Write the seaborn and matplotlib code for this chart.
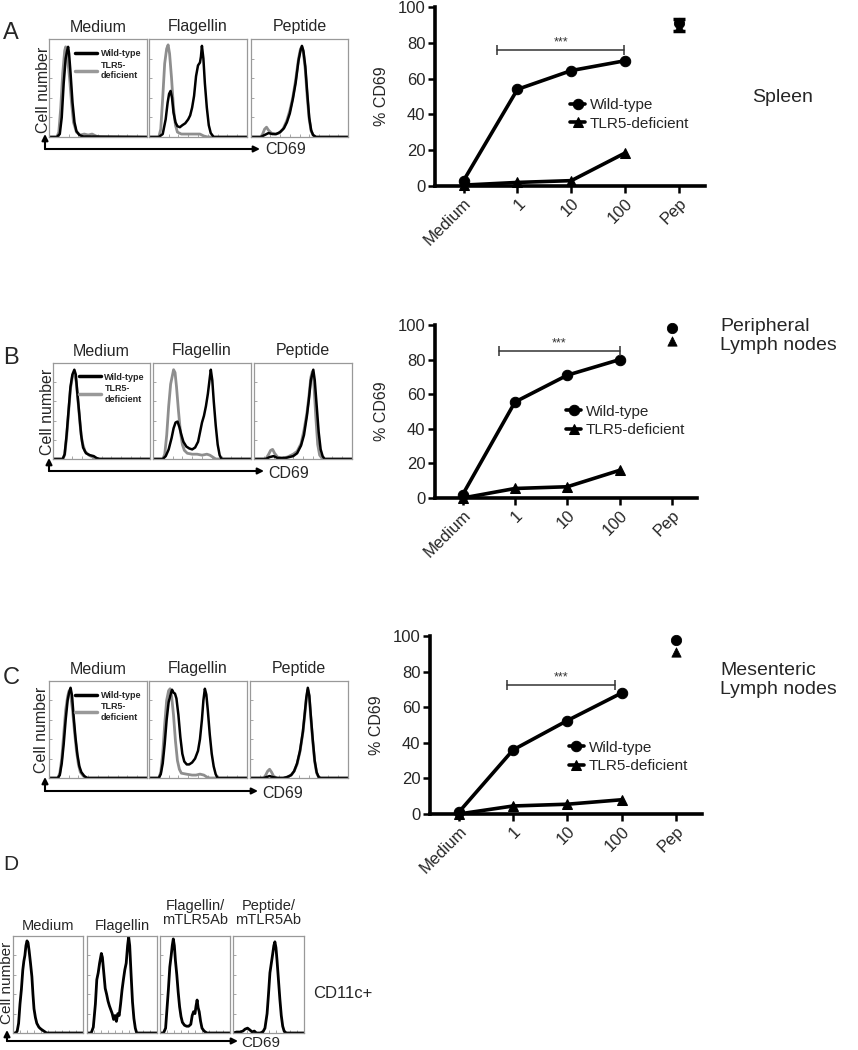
import matplotlib
matplotlib.use("Agg")
import numpy as np
import pandas as pd
import matplotlib.pyplot as plt
import seaborn as sns
from matplotlib.lines import Line2D

sns.set_theme(style="white")
plt.rcParams['font.family'] = ['Liberation Sans', 'DejaVu Sans']

W, H = 858, 1050

# ---- line chart data (% CD69) ----
XTICK_LABELS = ["Medium", "1", "10", "100", "Pep"]
A_WT = [3, 54, 64.5, 70]
A_KO = [0.5, 2, 3, 18.5]
A_PEP_WT, A_PEP_KO = 91, 89
B_WT = [2, 55.5, 71, 80]
B_KO = [0, 5.5, 6.5, 16]
B_PEP_WT, B_PEP_KO = 98, 91
C_WT = [1, 36, 52.5, 68]
C_KO = [0, 4.5, 5.5, 8]
C_PEP_WT, C_PEP_KO = 98, 91

# ---- histogram traces (x %, height %) ----
A_MED_WT = [(0, 0), (8, 0), (11, 3), (13, 20), (15, 55), (17, 80), (18.5, 88), (19.5, 92), (20.5, 85), (22, 65),
            (24, 35), (26, 15), (28, 6), (31, 2), (35, 0.5), (100, 0)]
A_MED_KO = [(0, 0), (8, 0), (10, 5), (12, 30), (14, 65), (16, 88), (17, 92), (18, 88), (19.5, 75), (21, 60),
            (23, 35), (25, 15), (28, 5), (32, 2), (36, 3), (40, 2), (44, 3), (48, 1), (52, 0), (100, 0)]
A_FLA_WT = [(0, 0), (10, 0), (14, 3), (17, 18), (19, 35), (20.5, 44), (22, 47), (23.5, 40), (25, 25), (27, 15),
            (29, 11), (31.5, 10), (34, 12), (37, 14), (40, 18), (42, 22), (44, 30), (46, 42), (48, 62), (50, 73),
            (52, 76), (53, 82), (54, 93), (55.5, 80), (57, 55), (59, 30), (61, 12), (63, 4), (66, 0), (100, 0)]
A_FLA_KO = [(0, 0), (10, 0), (12, 8), (14, 40), (16, 75), (18, 90), (19.5, 94), (21, 85), (23, 60), (25, 30),
            (27, 12), (29, 5), (33, 3), (40, 3), (48, 3), (52, 3), (56, 1), (60, 0), (100, 0)]
A_PEP_WT_H = [(0, 0), (10, 0), (14, 2), (18, 4), (22, 3), (26, 3), (30, 5), (34, 9), (37, 15), (40, 24), (43, 38),
              (46, 55), (49, 78), (51, 88), (52.5, 93), (54, 88), (56, 72), (58, 45), (60, 20), (62, 7), (64, 2),
              (67, 0), (100, 0)]
A_PEP_KO_H = [(0, 0), (10, 0), (12, 3), (14, 8), (16, 10), (18, 7), (21, 4), (25, 3), (29, 4), (33, 8), (37, 17),
              (40, 27), (43, 40), (46, 58), (49, 80), (51, 90), (52.5, 92), (54, 86), (56, 68), (58, 40), (60, 18),
              (62, 6), (64, 2), (67, 0), (100, 0)]

B_MED_WT = [(0, 0), (10, 0), (12, 5), (14, 25), (16, 50), (18, 75), (20, 88), (22, 93), (23.5, 88), (25, 70),
            (27, 48), (29, 25), (31, 12), (34, 6), (38, 4), (42, 3), (45, 1), (48, 0), (100, 0)]
B_MED_KO = [(0, 0), (10, 0), (12, 4), (14, 22), (16, 48), (18, 73), (20, 86), (22, 90), (24, 80), (26, 58),
            (28, 35), (30, 18), (33, 8), (37, 4), (41, 2), (45, 0), (100, 0)]
B_FLA_WT = [(0, 0), (10, 0), (13, 3), (16, 10), (19, 22), (21, 32), (23, 38), (25, 39), (27, 33), (29, 25),
            (31, 18), (34, 13), (37, 11), (40, 10), (43, 12), (46, 18), (48, 28), (50, 38), (52, 45), (54, 55),
            (56, 68), (58, 85), (59, 93), (60.5, 82), (62, 60), (64, 35), (66, 15), (68, 4), (70, 0), (100, 0)]
B_FLA_KO = [(0, 0), (10, 0), (12, 5), (14, 25), (16, 55), (18, 78), (20, 88), (21, 93), (22.5, 90), (24, 75),
            (26, 50), (28, 28), (30, 15), (32, 9), (35, 6), (40, 5), (45, 5), (50, 4), (55, 5), (58, 4), (61, 2),
            (64, 0), (100, 0)]
B_PEP_WT_H = [(0, 0), (12, 0), (16, 2), (20, 3), (24, 1), (28, 1), (32, 1), (36, 2), (40, 3), (44, 6), (48, 14),
              (51, 25), (54, 45), (56, 62), (58, 82), (60.5, 93), (62, 82), (64, 55), (66, 28), (68, 10), (70, 3),
              (72, 0), (100, 0)]
B_PEP_KO_H = [(0, 0), (12, 0), (15, 5), (17, 9), (19, 10), (21, 6), (24, 2), (28, 1), (34, 2), (40, 5), (44, 8),
              (48, 16), (51, 30), (54, 48), (56, 65), (58, 85), (59.5, 91), (61, 80), (63, 45), (65, 15), (67, 4),
              (70, 0), (100, 0)]

C_MED_WT = [(0, 0), (9, 0), (11, 3), (13, 15), (15, 35), (17, 60), (19, 80), (20.5, 88), (22, 93), (23.5, 85),
            (25, 65), (27, 42), (29, 24), (31, 12), (33, 6), (36, 2), (39, 0), (100, 0)]
C_MED_KO = [(0, 0), (9, 0), (11, 5), (13, 20), (15, 45), (17, 70), (19, 84), (20.5, 90), (22, 86), (24, 70),
            (26, 48), (28, 28), (30, 14), (32, 6), (35, 2), (38, 0), (100, 0)]
C_FLA_WT = [(0, 0), (10, 0), (12, 4), (14, 15), (16, 35), (18, 60), (20, 78), (22, 86), (23.5, 91), (25, 88),
            (26.5, 87), (28, 82), (30, 65), (32, 42), (34, 25), (36, 17), (38.5, 14), (41, 14), (44, 16), (47, 20),
            (50, 28), (52, 40), (54, 60), (55.5, 80), (57, 92), (58.5, 86), (60, 70), (62, 45), (64, 25), (66, 12),
            (68, 4), (70, 0), (100, 0)]
C_FLA_KO = [(0, 0), (10, 0), (12, 6), (14, 25), (16, 55), (18, 80), (20, 90), (21.5, 92), (23, 85), (25, 65),
            (27, 38), (29, 18), (31, 9), (33, 5), (38, 4), (44, 3), (48, 3), (52, 4), (56, 3), (59, 1), (62, 0),
            (100, 0)]
C_PEP_WT_H = [(0, 0), (14, 0), (17, 1), (20, 2), (23, 1), (28, 0), (34, 0), (38, 1), (42, 3), (45, 7), (48, 15),
              (51, 28), (54, 48), (56, 68), (57.5, 83), (59, 93), (60.5, 85), (62, 65), (64, 40), (66, 18), (68, 6),
              (70, 1), (72, 0), (100, 0)]
C_PEP_KO_H = [(0, 0), (14, 0), (16, 3), (18, 7), (20, 9), (22, 6), (24, 2), (27, 0), (34, 0), (38, 1), (42, 3),
              (45, 7), (48, 14), (51, 27), (54, 47), (56, 66), (57.5, 82), (59, 91), (60.5, 84), (62, 63), (64, 38),
              (66, 17), (68, 5), (70, 1), (72, 0), (100, 0)]

D_MED = [(0, 0), (4, 0), (6, 2), (8, 10), (10, 30), (12, 45), (14, 65), (15.5, 74), (17, 80), (18.5, 90), (20, 95),
         (21.5, 93), (23, 85), (25, 72), (27, 58), (28.5, 40), (30, 25), (32, 16), (34, 10), (37, 6), (40, 4),
         (44, 2), (48, 0), (100, 0)]
D_FLA = [(0, 0), (6, 0), (9, 6), (12, 30), (14, 55), (16, 62), (18, 72), (20.5, 82), (22, 78), (24, 62), (26, 46),
         (28, 40), (30, 33), (32, 28), (34, 24), (36, 20), (38, 14), (40, 18), (42, 12), (44, 20), (46, 18),
         (48, 30), (50, 44), (52, 55), (54, 65), (56, 72), (58, 90), (59.5, 99), (61, 90), (63, 60), (65, 32),
         (67, 15), (69, 5), (71, 0), (100, 0)]
D_FLA_AB = [(0, 0), (5, 0), (8, 5), (10, 25), (12, 45), (14, 68), (16, 80), (17.5, 90), (19, 97), (20.5, 90),
            (22, 75), (24, 60), (26, 42), (28, 27), (30, 17), (32, 11), (35, 8), (38, 7), (41, 7), (44, 9), (46, 18),
            (48, 22), (50, 20), (51.5, 28), (53, 34), (54.5, 26), (56, 22), (58, 12), (60, 5), (63, 2), (67, 0),
            (100, 0)]
D_PEP_AB = [(0, 0), (5, 1), (10, 1), (14, 2), (17, 4), (20.5, 5), (24, 3), (27, 1), (30, 2), (33, 0), (38, 0),
            (42, 1), (45, 5), (48, 20), (50, 40), (52, 62), (54, 72), (56, 82), (57.5, 90), (59, 94), (60.5, 88),
            (62, 75), (64, 55), (66, 35), (68, 18), (70, 7), (72, 2), (75, 0), (100, 0)]

HIST_TITLES = ["Medium", "Flagellin", "Peptide"]
D_TITLES = ["Medium", "Flagellin", "Flagellin/\nmTLR5Ab", "Peptide/\nmTLR5Ab"]

fig = plt.figure(figsize=(W / 100, H / 100), dpi=100)


def rect(l, t, r, b):
    return [l / W, 1 - b / H, (r - l) / W, (b - t) / H]


def fpx(x, y):
    return x / W, 1 - y / H


def trace(ax, pts, color, lw):
    df = pd.DataFrame(pts, columns=["x", "y"])
    sns.lineplot(data=df, x="x", y="y", ax=ax, color=color, lw=lw, sort=False, estimator=None)


def hist_box(l, t, r, b, title, curves, title_y=None, title_size=11.5):
    ax = fig.add_axes(rect(l, t, r, b))
    for pts, color, lw in curves:
        trace(ax, pts, color, lw)
    ax.set_xlim(0, 100)
    ax.set_ylim(0, 100)
    ax.set_xlabel("")
    ax.set_ylabel("")
    ax.set_yticks([0, 20, 40, 60, 80])
    ax.set_xticks([10, 20, 30, 40, 50, 60, 70, 80, 90])
    ax.tick_params(direction="in", length=2, width=0.6, color="#999999", left=True, bottom=True,
                   labelleft=False, labelbottom=False)
    for s in ax.spines.values():
        s.set_color("#999999")
        s.set_linewidth(0.9)
    ty = title_y if title_y is not None else t - 12
    fig.text((l + r) / 2 / W, 1 - ty / H, title, ha="center", va="center", fontsize=title_size,
             linespacing=1.0)
    return ax


def hist_legend(ax):
    handles = [Line2D([], [], color="black", lw=2.5), Line2D([], [], color="#999999", lw=2.5)]
    ax.legend(handles, ["Wild-type", "TLR5-\ndeficient"], loc="upper left", bbox_to_anchor=(0.27, 0.9),
              frameon=False, prop={"weight": "bold", "size": 6.5}, handlelength=2.4, handletextpad=0.4,
              borderpad=0, borderaxespad=0, labelspacing=0.3)


def cell_axis(x_lab, y_lab, corner, x_end, y_top, cd_x, cd_y, size=11.5):
    fig.text(*fpx(x_lab, y_lab), "Cell number", rotation=90, ha="center", va="center", fontsize=size)
    cx, cy = corner
    for end in [(x_end, cy), (cx, y_top)]:
        fig.add_artist(matplotlib.patches.FancyArrowPatch(fpx(cx, cy), fpx(*end), transform=fig.transFigure,
                                                          arrowstyle="-|>", mutation_scale=9, lw=1.5,
                                                          color="black", shrinkA=0, shrinkB=0))
    fig.text(*fpx(cd_x, cd_y), "CD69", ha="left", va="center", fontsize=size)


def hist_row(boxes, t, b, curves_list, letter_y):
    axes = []
    for (l, r), title, curves in zip(boxes, HIST_TITLES, curves_list):
        axes.append(hist_box(l, t, r, b, title, curves))
    hist_legend(axes[0])
    return axes


GRAY = "#8e8e8e"

# ---- panel A ----
hist_row([(49, 147), (149, 247), (251, 348)], 39, 137,
         [[(A_MED_KO, GRAY, 2.0), (A_MED_WT, "black", 1.8)],
          [(A_FLA_KO, GRAY, 2.0), (A_FLA_WT, "black", 1.8)],
          [(A_PEP_KO_H, GRAY, 2.0), (A_PEP_WT_H, "black", 1.8)]], 33)
cell_axis(44, 90, (45, 149), 260, 134, 265, 150)
fig.text(*fpx(3, 33), "A", fontsize=17, ha="left", va="center")

# ---- panel B ----
hist_row([(53, 150), (153, 251), (254, 352)], 363, 459,
         [[(B_MED_KO, GRAY, 2.0), (B_MED_WT, "black", 1.8)],
          [(B_FLA_KO, GRAY, 2.0), (B_FLA_WT, "black", 1.8)],
          [(B_PEP_KO_H, GRAY, 2.0), (B_PEP_WT_H, "black", 1.8)]], 357)
cell_axis(47, 412, (49, 471), 264, 458, 268, 474)
fig.text(*fpx(3, 358), "B", fontsize=17, ha="left", va="center")

# ---- panel C ----
hist_row([(49, 147), (149, 247), (250, 348)], 681, 778,
         [[(C_MED_KO, GRAY, 2.0), (C_MED_WT, "black", 1.8)],
          [(C_FLA_KO, GRAY, 2.0), (C_FLA_WT, "black", 1.8)],
          [(C_PEP_KO_H, GRAY, 2.0), (C_PEP_WT_H, "black", 1.8)]], 678)
cell_axis(41, 730, (45, 791), 258, 777, 262, 793)
fig.text(*fpx(3, 678), "C", fontsize=17, ha="left", va="center")

# ---- panel D ----
d_boxes = [(13, 83), (87, 157), (160, 230), (233, 304)]
d_curves = [D_MED, D_FLA, D_FLA_AB, D_PEP_AB]
for (l, r), title, pts in zip(d_boxes, D_TITLES, d_curves):
    ty = 926 if "\n" not in title else 913
    hist_box(l, 936, r, 1033, title, [(pts, "black", 2.0)], title_y=ty, title_size=10.5)
cell_axis(7, 983, (7, 1041), 238, 1030, 241, 1043, size=11)
fig.text(*fpx(3, 865), "D", fontsize=15, ha="left", va="center")
fig.text(*fpx(313, 993), "CD11c+", fontsize=12, ha="left", va="center")


# ---- line charts ----
def dose_chart(box, wt, ko, pep_wt, pep_ko, sig, leg, hourglass=False):
    ax = fig.add_axes(rect(*box))
    pos = np.arange(len(wt))
    pep_x = len(wt)
    sns.lineplot(x=pos, y=wt, ax=ax, color="black", lw=2.6, marker="o", markersize=7.5,
                 markeredgecolor="black", clip_on=False, label="Wild-type")
    sns.lineplot(x=pos, y=ko, ax=ax, color="black", lw=2.6, marker="^", markersize=7.5,
                 markeredgecolor="black", clip_on=False, label="TLR5-deficient")
    if hourglass:
        ax.errorbar([pep_x], [(pep_wt + pep_ko) / 2], yerr=[[3.5], [3.5]], fmt="none", ecolor="black",
                    elinewidth=2.5, capsize=4, capthick=2.5)
    sns.scatterplot(x=[pep_x], y=[pep_wt], ax=ax, color="black", marker="o", s=55, edgecolor="black",
                    clip_on=False)
    sns.scatterplot(x=[pep_x], y=[pep_ko], ax=ax, color="black", marker="^", s=45, edgecolor="black",
                    clip_on=False)
    x0, x1, y = sig
    ax.plot([x0, x1], [y, y], color="#333333", lw=1.1, marker="|", markersize=7, markeredgewidth=1.1)
    ax.text((x0 + x1) / 2, y + 1, "***", ha="center", va="bottom", fontsize=9, color="#333333")
    ax.set_xlim(-0.53, 4.48)
    ax.set_ylim(0, 100)
    ax.set_xticks(np.arange(len(XTICK_LABELS)))
    ax.set_xticklabels(XTICK_LABELS, rotation=45, ha="right", rotation_mode="anchor")
    ax.set_yticks([0, 20, 40, 60, 80, 100])
    ax.set_xlabel("")
    ax.set_ylabel("% CD69", fontsize=11.5, labelpad=6)
    sns.despine(ax=ax)
    for s in ["left", "bottom"]:
        ax.spines[s].set_linewidth(2.6)
        ax.spines[s].set_color("black")
    ax.tick_params(direction="out", length=5, width=1.8, color="black", left=True, bottom=True,
                   labelsize=12, pad=2)
    ax.legend(loc="center left", bbox_to_anchor=leg, frameon=False, fontsize=11, handlelength=1.0,
              handletextpad=0.3, borderpad=0, borderaxespad=0, labelspacing=0.3)
    return ax


dose_chart((435, 7, 705, 186), A_WT, A_KO, A_PEP_WT, A_PEP_KO, (0.62, 2.98, 76), (0.5, 0.40), hourglass=True)
dose_chart((435, 325, 697, 498), B_WT, B_KO, B_PEP_WT, B_PEP_KO, (0.70, 3.0, 85), (0.5, 0.445))
dose_chart((430, 636, 702, 814), C_WT, C_KO, C_PEP_WT, C_PEP_KO, (0.89, 2.87, 72.3), (0.51, 0.32))

fig.text(*fpx(752, 98), "Spleen", fontsize=14, ha="left", va="center")
fig.text(*fpx(720, 336), "Peripheral\nLymph nodes", fontsize=14, ha="left", va="center", linespacing=1.1)
fig.text(*fpx(720, 680), "Mesenteric\nLymph nodes", fontsize=14, ha="left", va="center", linespacing=1.1)

fig.savefig("out.png", dpi=100)
